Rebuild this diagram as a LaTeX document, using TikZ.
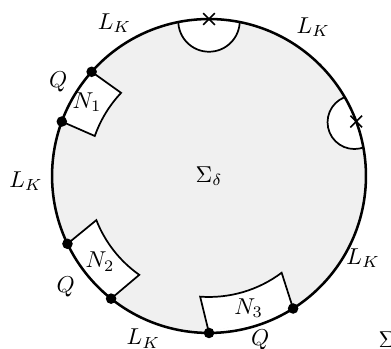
\documentclass[tikz,border=0pt]{standalone}
\usetikzlibrary{shapes.misc}
\newcommand{\bigR}{2.4}
\newcommand{\inR}{1.85}

\begin{document}
\begin{tikzpicture}[dot/.style={circle,fill,inner sep=0pt,minimum size=4.6pt},
  markx/.style={cross out,draw,line width=0.7pt,inner sep=0pt,minimum size=4.4pt},
  rim/.style={line width=1.1pt},edgeline/.style={line width=0.75pt}]
\useasboundingbox (-3.196,-2.645) rectangle (2.783,2.691);
\clip (-3.196,-2.645) rectangle (2.783,2.691);
\fill[black!6] (0,0) circle (\bigR);
% half discs round the two marked points
\begin{scope}
\clip (0,0) circle (\bigR);
\filldraw[fill=white,edgeline] (90:2.37) circle (0.47);
\filldraw[fill=white,edgeline] (20.3:2.37) circle (0.41);
\end{scope}
% the three collars N_i
\coordinate (q1a) at (138.4:\bigR);
\coordinate (q1b) at (159.7:\bigR);
\coordinate (n1a) at (136.6:\inR);
\coordinate (q2a) at (205.6:\bigR);
\coordinate (q2b) at (231.4:\bigR);
\coordinate (n2a) at (201.4:\inR);
\coordinate (q3a) at (270:\bigR);
\coordinate (q3b) at (302.4:\bigR);
\coordinate (n3a) at (265.8:\inR);
\filldraw[fill=white,edgeline] (q1a) -- (n1a) arc[start angle=136.6,end angle=160.7,radius=\inR] -- (q1b);
\fill[white] (q1b) arc[start angle=159.7,end angle=138.4,radius=\bigR] -- (q1a);
\filldraw[fill=white,edgeline] (q2a) -- (n2a) arc[start angle=201.4,end angle=234.8,radius=\inR] -- (q2b);
\fill[white] (q2b) arc[start angle=231.4,end angle=205.6,radius=\bigR] -- (q2a);
\filldraw[fill=white,edgeline] (q3a) -- (n3a) arc[start angle=265.8,end angle=306.9,radius=\inR] -- (q3b);
\fill[white] (q3b) arc[start angle=302.4,end angle=270,radius=\bigR] -- (q3a);
\draw[rim] (0,0) circle (\bigR);
\node[markx] (x1) at (90:\bigR) {};
\node[markx] (x2) at (20.3:\bigR) {};
\node[dot] (Q1a) at (q1a) {};
\node[dot] (Q1b) at (q1b) {};
\node[dot] (Q2a) at (q2a) {};
\node[dot] (Q2b) at (q2b) {};
\node[dot] (Q3a) at (q3a) {};
\node[dot] (Q3b) at (q3b) {};
% labels
\node (sig) at (0,0) {$\Sigma_\delta$};
\node (N1) at (148.8:2.18) {$N_1$};
\node (N2) at (218.2:2.12) {$N_2$};
\node (N3) at (286.7:2.11) {$N_3$};
\node (Q1) at (148:2.72) {$Q$};
\node (Q2) at (217.7:2.77) {$Q$};
\node (Q3) at (287.3:2.63) {$Q$};
\node (L1) at (121.7:2.75) {$L_K$};
\node (L2) at (55:2.78) {$L_K$};
\node (L3) at (181.6:2.80) {$L_K$};
\node (L4) at (248:2.68) {$L_K$};
\node (L5) at (332:2.67) {$L_K$};
\node (sigma) at (2.72,-2.51) {$\Sigma$};
\end{tikzpicture}
\end{document}
